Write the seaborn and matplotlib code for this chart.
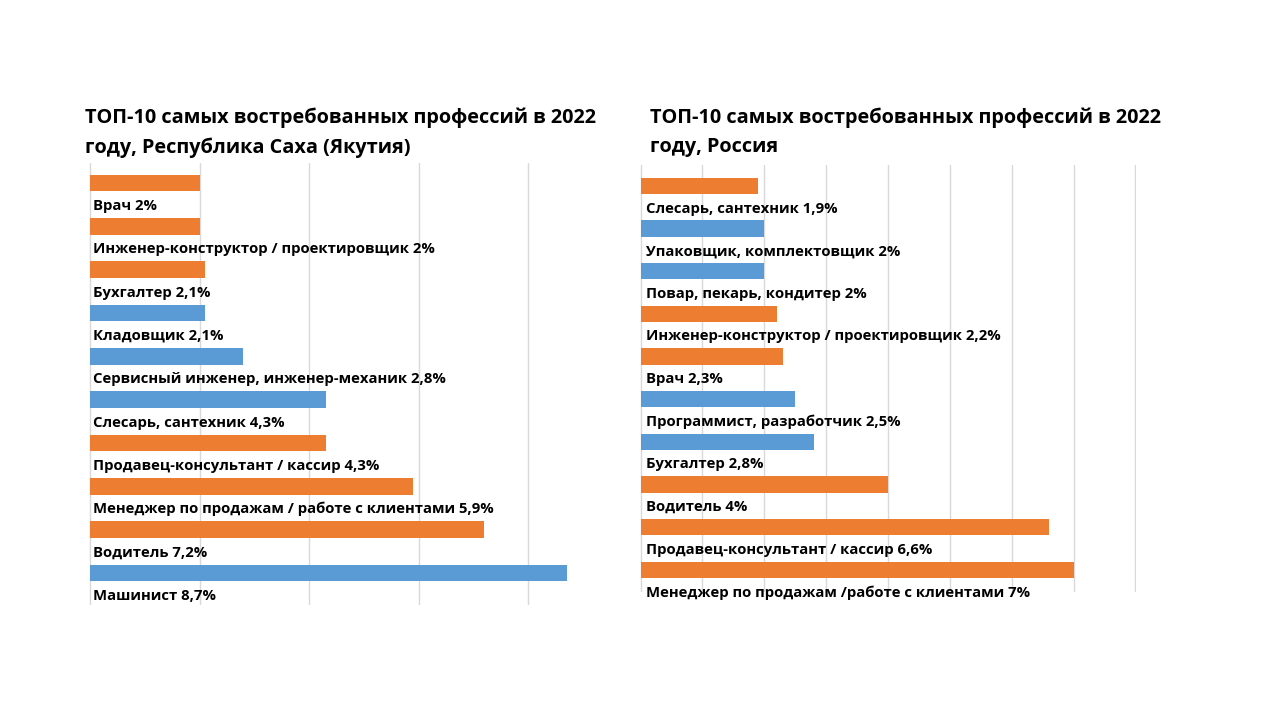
import numpy as np
import pandas as pd
import matplotlib
matplotlib.use('Agg')
import matplotlib.pyplot as plt
import seaborn as sns

# Якутия
yak_names = ['Врач', 'Инженер-конструктор / проектировщик', 'Бухгалтер', 'Кладовщик',
             'Сервисный инженер, инженер-механик', 'Слесарь, сантехник',
             'Продавец-консультант / кассир', 'Менеджер по продажам / работе с клиентами',
             'Водитель', 'Машинист']
yak_values = [2, 2, 2.1, 2.1, 2.8, 4.3, 4.3, 5.9, 7.2, 8.7]
yak_group = ['o', 'o', 'o', 'b', 'b', 'b', 'o', 'o', 'o', 'b']

# Россия
rus_names = ['Слесарь, сантехник', 'Упаковщик, комплектовщик', 'Повар, пекарь, кондитер',
             'Инженер-конструктор / проектировщик', 'Врач', 'Программист, разработчик',
             'Бухгалтер', 'Водитель', 'Продавец-консультант / кассир',
             'Менеджер по продажам /работе с клиентами']
rus_values = [1.9, 2, 2, 2.2, 2.3, 2.5, 2.8, 4, 6.6, 7]
rus_group = ['o', 'b', 'b', 'o', 'o', 'b', 'b', 'o', 'o', 'o']

titles = ['ТОП-10 самых востребованных профессий в 2022\nгоду, Республика Саха (Якутия)',
          'ТОП-10 самых востребованных профессий в 2022\nгоду, Россия']

palette = {'o': '#ED7D31', 'b': '#5B9BD5'}

sns.set_style('white')
plt.rcParams['font.family'] = ['Open Sans', 'DejaVu Sans']

fig = plt.figure(figsize=(12.8, 7.2), dpi=100)


def fmt(v):
    return ('%g' % v).replace('.', ',') + '%'


def draw(rect, names, values, groups, xmax, step, ylim, title, title_xy, pad):
    ax = fig.add_axes(rect)
    df = pd.DataFrame({'name': names, 'value': values, 'group': groups})
    sns.barplot(data=df, y='name', x='value', hue='group', palette=palette,
                orient='h', width=0.38, dodge=False, legend=False, ax=ax,
                saturation=1, linewidth=0, zorder=3)
    ax.set_xlim(-0.01 * step, xmax + 0.01 * step)
    ax.set_ylim(*ylim)
    ax.set_xticks(np.arange(0, xmax + 0.01, step))
    ax.grid(axis='x', color='#D9D9D9', linewidth=1, zorder=0)
    ax.grid(axis='y', visible=False)
    ax.set_yticks([])
    ax.set_xticklabels([])
    ax.tick_params(length=0)
    ax.set_xlabel('')
    ax.set_ylabel('')
    for s in ax.spines.values():
        s.set_visible(False)
    for i, (n, v) in enumerate(zip(names, values)):
        ax.text(pad, i + 0.53, f'{n} {fmt(v)}',
                fontsize=10.7, fontweight='bold', color='black',
                va='center', ha='left', clip_on=False, zorder=4)
    fig.text(title_xy[0], title_xy[1], title, fontsize=14.3, fontweight='bold',
             color='black', va='top', ha='left', linespacing=1.55)
    return ax


draw([89 / 1280, 1 - 605 / 720, (617 - 89) / 1280, (605 - 163) / 720],
     yak_names, yak_values, yak_group, 9.6, 2, (9.74, -0.46), titles[0],
     (85 / 1280, 1 - 108 / 720), 0.06)
draw([640 / 1280, 1 - 592 / 720, (1136 - 640) / 1280, (592 - 165) / 720],
     rus_names, rus_values, rus_group, 8, 1, (9.52, -0.49), titles[1],
     (650 / 1280, 1 - 108 / 720), 0.08)

fig.savefig('out.png', dpi=100)
